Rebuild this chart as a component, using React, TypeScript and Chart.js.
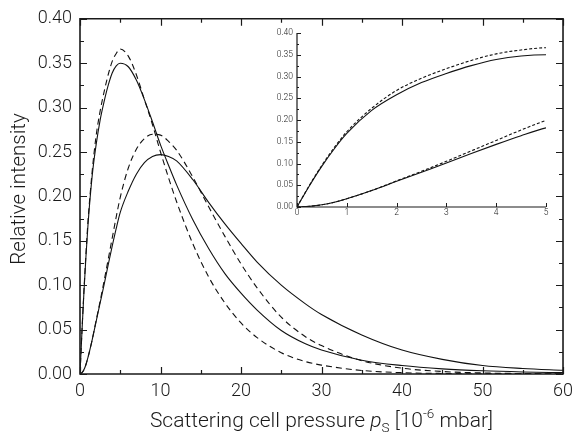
import React, { useEffect, useRef } from "react";
import { Chart, registerables } from "chart.js";

Chart.register(...registerables);

// ---- data ----
const pressure = [0, 0.25, 0.5, 0.75, 1, 1.5, 2, 2.5, 3, 3.5, 4, 4.5, 5, 6, 7, 8, 9, 10, 11, 12, 14, 16, 18, 20, 22, 25, 28, 30, 35, 40, 45, 50, 55, 60];
const solidOne = [0, 0.049, 0.094, 0.134, 0.169, 0.222, 0.258, 0.286, 0.307, 0.325, 0.339, 0.347, 0.35, 0.346, 0.331, 0.309, 0.284, 0.258, 0.235, 0.213, 0.174, 0.141, 0.113, 0.091, 0.072, 0.049, 0.034, 0.027, 0.0155, 0.0095, 0.0058, 0.0036, 0.0023, 0.0015];
const dashedOne = [0, 0.05, 0.096, 0.137, 0.173, 0.227, 0.268, 0.296, 0.318, 0.337, 0.352, 0.361, 0.366, 0.358, 0.337, 0.309, 0.281, 0.25, 0.221, 0.194, 0.147, 0.109, 0.08, 0.0575, 0.041, 0.024, 0.014, 0.01, 0.004, 0.0015, 0.0006, 0.0002, 0.0001, 0.00003];
const solidTwo = [0, 0.0015, 0.005, 0.011, 0.019, 0.038, 0.059, 0.08, 0.101, 0.123, 0.144, 0.164, 0.182, 0.206, 0.225, 0.238, 0.245, 0.247, 0.245, 0.24, 0.219, 0.193, 0.169, 0.147, 0.126, 0.1, 0.079, 0.067, 0.044, 0.027, 0.0165, 0.0095, 0.0062, 0.0042];
const dashedTwo = [0, 0.0015, 0.005, 0.011, 0.019, 0.038, 0.06, 0.082, 0.105, 0.129, 0.153, 0.177, 0.199, 0.232, 0.253, 0.265, 0.27, 0.269, 0.262, 0.252, 0.222, 0.188, 0.155, 0.124, 0.097, 0.064, 0.042, 0.032, 0.015, 0.0066, 0.0028, 0.0012, 0.0005, 0.0002];

const mainXTicks = [0, 10, 20, 30, 40, 50, 60];
const mainXMinor = [5, 15, 25, 35, 45, 55];
const yTicks = [0, 0.05, 0.1, 0.15, 0.2, 0.25, 0.3, 0.35, 0.4];
const yMinor = [0.025, 0.075, 0.125, 0.175, 0.225, 0.275, 0.325, 0.375];
const insetXTicks = [0, 1, 2, 3, 4, 5];

const yTitle = "Relative intensity";
const xTitleParts = ["Scattering cell pressure ", "p", "S", " [10", "-6", " mbar]"];

const FAMILY = "Roboto, 'Liberation Sans', sans-serif";
const INK = "#1a1a1a";
const TEXT = "#1a1a1a";

function series(values: number[]) {
  return pressure.map((p, i) => ({ x: p, y: values[i] }));
}

function makeDatasets(dash: number[], width: number) {
  const list = [
    { data: series(solidOne), borderDash: [] as number[] },
    { data: series(dashedOne), borderDash: dash },
    { data: series(solidTwo), borderDash: [] as number[] },
    { data: series(dashedTwo), borderDash: dash },
  ];
  return list.map((d) => ({
    ...d,
    borderColor: "#111",
    borderWidth: width,
    pointRadius: 0,
    fill: false,
    cubicInterpolationMode: "monotone" as const,
  }));
}

const decor = {
  id: "decor",
  afterDraw(chart: any, _args: any, o: any) {
    const { ctx, chartArea: a, scales } = chart;
    const x = scales.x;
    const y = scales.y;
    ctx.save();
    ctx.strokeStyle = INK;
    ctx.lineWidth = o.frameWidth;
    ctx.beginPath();
    if (o.box) {
      ctx.rect(a.left, a.top, a.right - a.left, a.bottom - a.top);
    } else {
      ctx.moveTo(a.left, a.top);
      ctx.lineTo(a.left, a.bottom);
      ctx.lineTo(a.right, a.bottom);
    }
    ctx.stroke();
    ctx.lineWidth = o.tickWidth;
    ctx.beginPath();
    const vx = (v: number, len: number) => {
      const px = Math.round(x.getPixelForValue(v)) + 0.5;
      ctx.moveTo(px, a.bottom);
      ctx.lineTo(px, a.bottom - len);
      if (o.box) {
        ctx.moveTo(px, a.top);
        ctx.lineTo(px, a.top + len);
      }
    };
    const hy = (v: number, len: number) => {
      const py = Math.round(y.getPixelForValue(v)) + 0.5;
      ctx.moveTo(a.left, py);
      ctx.lineTo(a.left + len, py);
      if (o.box) {
        ctx.moveTo(a.right, py);
        ctx.lineTo(a.right - len, py);
      }
    };
    o.xMajor.forEach((v: number) => vx(v, o.major));
    o.xMinor.forEach((v: number) => vx(v, o.minor));
    o.yMajor.forEach((v: number) => hy(v, o.major));
    o.yMinor.forEach((v: number) => hy(v, o.minor));
    ctx.stroke();
    ctx.restore();
  },
};

const titles = {
  id: "titles",
  afterDraw(chart: any) {
    const { ctx, chartArea: a } = chart;
    ctx.save();
    ctx.fillStyle = TEXT;
    const normal = `300 21px ${FAMILY}`;
    const italic = `italic 300 21px ${FAMILY}`;
    const small = `300 13.5px ${FAMILY}`;
    // y title
    ctx.save();
    ctx.font = `300 20.5px ${FAMILY}`;
    ctx.textAlign = "center";
    ctx.textBaseline = "alphabetic";
    ctx.translate(25, 189);
    ctx.rotate(-Math.PI / 2);
    ctx.fillText(yTitle, 0, 0);
    ctx.restore();
    // x title (rich)
    const fonts = [normal, italic, small, normal, small, normal];
    const dys = [0, 0, 5, 0, -9, 0];
    let total = 0;
    const widths = xTitleParts.map((t, i) => {
      ctx.font = fonts[i];
      const w = ctx.measureText(t).width;
      total += w;
      return w;
    });
    let cx = (a.left + a.right) / 2 - total / 2;
    const base = 427;
    ctx.textAlign = "left";
    ctx.textBaseline = "alphabetic";
    xTitleParts.forEach((t, i) => {
      ctx.font = fonts[i];
      ctx.fillText(t, cx, base + dys[i]);
      cx += widths[i];
    });
    ctx.restore();
  },
};

function mainConfig(): any {
  return {
    type: "line",
    data: { datasets: makeDatasets([6, 4], 1.1) },
    plugins: [decor, titles],
    options: {
      animation: false,
      responsive: false,
      events: [],
      layout: { padding: { top: 15, right: 12, left: 0, bottom: 0 } },
      plugins: {
        legend: { display: false },
        tooltip: { enabled: false },
        decor: {
          box: true,
          frameWidth: 1.6,
          tickWidth: 1.2,
          major: 7,
          minor: 4,
          xMajor: mainXTicks,
          xMinor: mainXMinor,
          yMajor: yTicks,
          yMinor: yMinor,
        },
      },
      scales: {
        x: {
          type: "linear",
          min: 0,
          max: 60,
          grid: { display: false, drawTicks: false },
          border: { display: false },
          afterBuildTicks: (s: any) => {
            s.ticks = mainXTicks.map((v) => ({ value: v }));
          },
          afterFit: (s: any) => {
            s.height = 63;
          },
          ticks: {
            autoSkip: false,
            maxRotation: 0,
            padding: 7,
            color: TEXT,
            font: { family: FAMILY, size: 18, weight: "300" },
            callback: (v: any) => String(v),
          },
        },
        y: {
          type: "linear",
          min: 0,
          max: 0.4,
          grid: { display: false, drawTicks: false },
          border: { display: false },
          afterBuildTicks: (s: any) => {
            s.ticks = yTicks.map((v) => ({ value: v }));
          },
          afterFit: (s: any) => {
            s.width = 80;
          },
          ticks: {
            autoSkip: false,
            padding: 8,
            color: TEXT,
            font: { family: FAMILY, size: 18, weight: "300" },
            callback: (v: any) => Number(v).toFixed(2),
          },
        },
      },
    },
  };
}

function insetConfig(): any {
  return {
    type: "line",
    data: { datasets: makeDatasets([3, 2], 1.1) },
    plugins: [decor],
    options: {
      animation: false,
      responsive: false,
      events: [],
      layout: { padding: { top: 13, right: 14, left: 0, bottom: 0 } },
      plugins: {
        legend: { display: false },
        tooltip: { enabled: false },
        decor: {
          box: false,
          frameWidth: 1.2,
          tickWidth: 1,
          major: 4,
          minor: 2,
          xMajor: insetXTicks,
          xMinor: [],
          yMajor: yTicks,
          yMinor: yMinor,
        },
      },
      scales: {
        x: {
          type: "linear",
          min: 0,
          max: 5,
          grid: { display: false, drawTicks: false },
          border: { display: false },
          afterBuildTicks: (s: any) => {
            s.ticks = insetXTicks.map((v) => ({ value: v }));
          },
          afterFit: (s: any) => {
            s.height = 18;
          },
          ticks: {
            autoSkip: false,
            maxRotation: 0,
            padding: 1,
            color: TEXT,
            font: { family: FAMILY, size: 8.5, weight: "300" },
            callback: (v: any) => String(v),
          },
        },
        y: {
          type: "linear",
          min: 0,
          max: 0.4,
          grid: { display: false, drawTicks: false },
          border: { display: false },
          afterBuildTicks: (s: any) => {
            s.ticks = yTicks.map((v) => ({ value: v }));
          },
          afterFit: (s: any) => {
            s.width = 47;
          },
          ticks: {
            autoSkip: false,
            padding: 4,
            color: TEXT,
            font: { family: FAMILY, size: 8.5, weight: "300" },
            callback: (v: any) => Number(v).toFixed(2),
          },
        },
      },
    },
  };
}

export default function App() {
  const mainRef = useRef<HTMLCanvasElement>(null);
  const insetRef = useRef<HTMLCanvasElement>(null);
  useEffect(() => {
    const main = new Chart(mainRef.current as HTMLCanvasElement, mainConfig());
    const inset = new Chart(insetRef.current as HTMLCanvasElement, insetConfig());
    return () => {
      main.destroy();
      inset.destroy();
    };
  }, []);
  return (
    <div style={{ position: "absolute", left: 0, top: 0, width: 580, height: 437, background: "#fff" }}>
      <canvas ref={mainRef} width={580} height={437} style={{ position: "absolute", left: 0, top: 0 }} />
      <canvas ref={insetRef} width={310} height={205} style={{ position: "absolute", left: 250, top: 20 }} />
    </div>
  );
}
